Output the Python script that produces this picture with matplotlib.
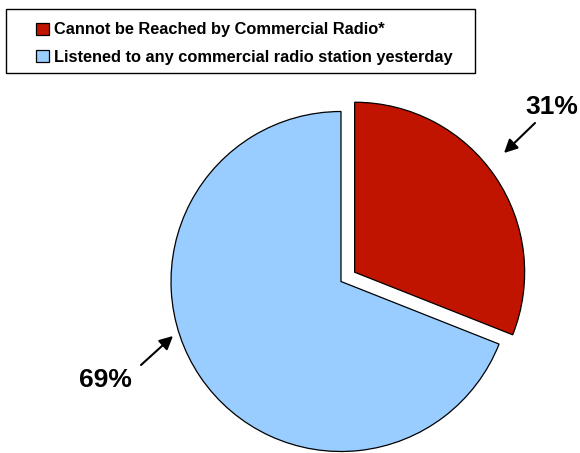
import matplotlib
matplotlib.use("Agg")
import matplotlib.pyplot as plt
from matplotlib.patches import Rectangle

labels = ["Cannot be Reached by Commercial Radio*",
          "Listened to any commercial radio station yesterday"]
values = [31, 69]
pct_labels = ["31%", "69%"]
colors = ["#C01400", "#99CCFF"]

plt.rcParams['font.family'] = ['Liberation Sans', 'DejaVu Sans']

W, H = 580, 453
fig = plt.figure(figsize=(W / 100, H / 100), dpi=100)
ax = fig.add_axes([0, 0, 1, 1])

R = 170
wedges, _ = ax.pie(values, colors=colors, startangle=90, counterclock=False,
                   radius=R, center=(341, H - 281.5), explode=[16.5, 0],
                   wedgeprops=dict(edgecolor='black', linewidth=0.9),
                   frame=True)
ax.set_xlim(0, W)
ax.set_ylim(0, H)
ax.set_aspect('equal')
ax.axis('off')

# percentage labels
ax.text(552, H - 107, pct_labels[0], ha='center', va='center',
        fontsize=19, fontweight='bold')
ax.text(105, H - 380, pct_labels[1], ha='center', va='center',
        fontsize=19, fontweight='bold')
arrow = dict(arrowstyle='-|>', color='black', lw=1.5, mutation_scale=20,
             shrinkA=0, shrinkB=0)
ax.annotate('', xy=(504, H - 153), xytext=(535, H - 123), arrowprops=arrow)
ax.annotate('', xy=(173, H - 336), xytext=(141, H - 365), arrowprops=arrow)

# legend box
fig.patches.append(Rectangle((6 / W, 1 - 73 / H), (475 - 6) / W, (73 - 9) / H,
                             transform=fig.transFigure, facecolor='white',
                             edgecolor='black', linewidth=1, zorder=0))
leg = fig.legend(wedges, labels, loc='upper left',
                 bbox_to_anchor=(25 / W, 1 - 11 / H), frameon=False,
                 prop=dict(size=11.8, weight='bold'),
                 handlelength=0.75, handleheight=0.75, handletextpad=0.3,
                 labelspacing=0.75, borderpad=0.2)

fig.savefig("out.png", dpi=100)
